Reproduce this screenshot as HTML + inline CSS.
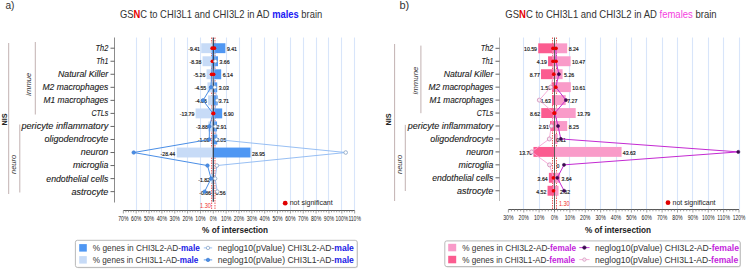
<!DOCTYPE html>
<html><head><meta charset="utf-8"><style>
html,body{margin:0;padding:0;background:#fff;}
svg{display:block;font-family:"Liberation Sans", sans-serif;}
</style></head><body>
<svg width="746" height="269" viewBox="0 0 746 269">
<rect width="746" height="269" fill="#fff"/>
<line x1="136.50" y1="37.5" x2="136.50" y2="210.5" stroke="#d8e5fa" stroke-width="1.1"/>
<line x1="149.50" y1="37.5" x2="149.50" y2="210.5" stroke="#d8e5fa" stroke-width="1.1"/>
<line x1="161.50" y1="37.5" x2="161.50" y2="210.5" stroke="#d8e5fa" stroke-width="1.1"/>
<line x1="174.50" y1="37.5" x2="174.50" y2="210.5" stroke="#d8e5fa" stroke-width="1.1"/>
<line x1="187.50" y1="37.5" x2="187.50" y2="210.5" stroke="#d8e5fa" stroke-width="1.1"/>
<line x1="200.50" y1="37.5" x2="200.50" y2="210.5" stroke="#d8e5fa" stroke-width="1.1"/>
<line x1="226.50" y1="37.5" x2="226.50" y2="210.5" stroke="#d8e5fa" stroke-width="1.1"/>
<line x1="239.50" y1="37.5" x2="239.50" y2="210.5" stroke="#d8e5fa" stroke-width="1.1"/>
<line x1="251.50" y1="37.5" x2="251.50" y2="210.5" stroke="#d8e5fa" stroke-width="1.1"/>
<line x1="264.50" y1="37.5" x2="264.50" y2="210.5" stroke="#d8e5fa" stroke-width="1.1"/>
<line x1="277.50" y1="37.5" x2="277.50" y2="210.5" stroke="#d8e5fa" stroke-width="1.1"/>
<line x1="290.50" y1="37.5" x2="290.50" y2="210.5" stroke="#d8e5fa" stroke-width="1.1"/>
<line x1="303.50" y1="37.5" x2="303.50" y2="210.5" stroke="#d8e5fa" stroke-width="1.1"/>
<line x1="316.50" y1="37.5" x2="316.50" y2="210.5" stroke="#d8e5fa" stroke-width="1.1"/>
<line x1="328.50" y1="37.5" x2="328.50" y2="210.5" stroke="#d8e5fa" stroke-width="1.1"/>
<line x1="341.50" y1="37.5" x2="341.50" y2="210.5" stroke="#d8e5fa" stroke-width="1.1"/>
<line x1="354.50" y1="37.5" x2="354.50" y2="210.5" stroke="#d8e5fa" stroke-width="1.1"/>
<line x1="211.63" y1="37.5" x2="211.63" y2="210.5" stroke="#e83030" stroke-width="0.8" stroke-dasharray="1.5,1"/>
<line x1="214.97" y1="37.5" x2="214.97" y2="210.5" stroke="#e83030" stroke-width="0.8" stroke-dasharray="1.5,1"/>
<rect x="201.21" y="43.25" width="12.09" height="9.9" fill="#c7dbf7"/>
<rect x="213.30" y="43.25" width="12.09" height="9.9" fill="#4f97f3"/>
<rect x="202.53" y="56.29" width="10.77" height="9.9" fill="#c7dbf7"/>
<rect x="213.30" y="56.29" width="4.70" height="9.9" fill="#4f97f3"/>
<rect x="206.54" y="69.33" width="6.76" height="9.9" fill="#c7dbf7"/>
<rect x="213.30" y="69.33" width="7.89" height="9.9" fill="#4f97f3"/>
<rect x="207.45" y="82.37" width="5.85" height="9.9" fill="#c7dbf7"/>
<rect x="213.30" y="82.37" width="3.89" height="9.9" fill="#4f97f3"/>
<rect x="208.08" y="95.41" width="5.22" height="9.9" fill="#c7dbf7"/>
<rect x="213.30" y="95.41" width="4.37" height="9.9" fill="#4f97f3"/>
<rect x="195.58" y="108.45" width="17.72" height="9.9" fill="#c7dbf7"/>
<rect x="213.30" y="108.45" width="8.87" height="9.9" fill="#4f97f3"/>
<rect x="208.31" y="121.49" width="4.99" height="9.9" fill="#c7dbf7"/>
<rect x="213.30" y="121.49" width="3.74" height="9.9" fill="#4f97f3"/>
<rect x="211.90" y="134.53" width="1.40" height="9.9" fill="#c7dbf7"/>
<rect x="213.30" y="134.53" width="3.92" height="9.9" fill="#4f97f3"/>
<rect x="176.75" y="147.57" width="36.55" height="9.9" fill="#c7dbf7"/>
<rect x="213.30" y="147.57" width="37.20" height="9.9" fill="#4f97f3"/>
<rect x="213.04" y="160.61" width="0.26" height="9.9" fill="#c7dbf7"/>
<rect x="213.30" y="160.61" width="0.26" height="9.9" fill="#4f97f3"/>
<rect x="210.96" y="173.65" width="2.34" height="9.9" fill="#c7dbf7"/>
<rect x="213.30" y="173.65" width="0.39" height="9.9" fill="#4f97f3"/>
<rect x="212.19" y="186.69" width="1.11" height="9.9" fill="#c7dbf7"/>
<rect x="213.30" y="186.69" width="0.72" height="9.9" fill="#4f97f3"/>
<line x1="213.30" y1="37.5" x2="213.30" y2="201.8" stroke="#2b3b4e" stroke-width="1.2"/>
<text x="200.01" y="51.20" font-size="5.9" text-anchor="end" fill="#1a1a1a" font-weight="normal" font-style="normal" textLength="11.83" lengthAdjust="spacingAndGlyphs" stroke="#1a1a1a" stroke-width="0.18">-9.41</text>
<text x="226.89" y="51.20" font-size="5.9" text-anchor="start" fill="#1a1a1a" font-weight="normal" font-style="normal" textLength="10.1" lengthAdjust="spacingAndGlyphs" stroke="#1a1a1a" stroke-width="0.18">9.41</text>
<text x="201.33" y="64.24" font-size="5.9" text-anchor="end" fill="#1a1a1a" font-weight="normal" font-style="normal" textLength="11.83" lengthAdjust="spacingAndGlyphs" stroke="#1a1a1a" stroke-width="0.18">-8.38</text>
<text x="219.50" y="64.24" font-size="5.9" text-anchor="start" fill="#1a1a1a" font-weight="normal" font-style="normal" textLength="10.1" lengthAdjust="spacingAndGlyphs" stroke="#1a1a1a" stroke-width="0.18">3.66</text>
<text x="205.34" y="77.28" font-size="5.9" text-anchor="end" fill="#1a1a1a" font-weight="normal" font-style="normal" textLength="11.83" lengthAdjust="spacingAndGlyphs" stroke="#1a1a1a" stroke-width="0.18">-5.26</text>
<text x="222.69" y="77.28" font-size="5.9" text-anchor="start" fill="#1a1a1a" font-weight="normal" font-style="normal" textLength="10.1" lengthAdjust="spacingAndGlyphs" stroke="#1a1a1a" stroke-width="0.18">6.14</text>
<text x="206.25" y="90.32" font-size="5.9" text-anchor="end" fill="#1a1a1a" font-weight="normal" font-style="normal" textLength="11.83" lengthAdjust="spacingAndGlyphs" stroke="#1a1a1a" stroke-width="0.18">-4.55</text>
<text x="218.69" y="90.32" font-size="5.9" text-anchor="start" fill="#1a1a1a" font-weight="normal" font-style="normal" textLength="10.1" lengthAdjust="spacingAndGlyphs" stroke="#1a1a1a" stroke-width="0.18">3.03</text>
<text x="206.88" y="103.36" font-size="5.9" text-anchor="end" fill="#1a1a1a" font-weight="normal" font-style="normal" textLength="11.83" lengthAdjust="spacingAndGlyphs" stroke="#1a1a1a" stroke-width="0.18">-4.06</text>
<text x="218.87" y="103.36" font-size="5.9" text-anchor="start" fill="#1a1a1a" font-weight="normal" font-style="normal" textLength="10.1" lengthAdjust="spacingAndGlyphs" stroke="#1a1a1a" stroke-width="0.18">3.71</text>
<text x="194.38" y="116.40" font-size="5.9" text-anchor="end" fill="#1a1a1a" font-weight="normal" font-style="normal" textLength="14.72" lengthAdjust="spacingAndGlyphs" stroke="#1a1a1a" stroke-width="0.18">-13.79</text>
<text x="223.67" y="116.40" font-size="5.9" text-anchor="start" fill="#1a1a1a" font-weight="normal" font-style="normal" textLength="10.1" lengthAdjust="spacingAndGlyphs" stroke="#1a1a1a" stroke-width="0.18">6.90</text>
<text x="207.81" y="129.44" font-size="5.9" text-anchor="end" fill="#1a1a1a" font-weight="normal" font-style="normal" textLength="11.83" lengthAdjust="spacingAndGlyphs" stroke="#1a1a1a" stroke-width="0.18">-3.88</text>
<text x="216.54" y="129.44" font-size="5.9" text-anchor="start" fill="#1a1a1a" font-weight="normal" font-style="normal" textLength="10.1" lengthAdjust="spacingAndGlyphs" stroke="#1a1a1a" stroke-width="0.18">2.91</text>
<text x="209.50" y="142.48" font-size="5.9" text-anchor="end" fill="#1a1a1a" font-weight="normal" font-style="normal" textLength="11.83" lengthAdjust="spacingAndGlyphs" stroke="#1a1a1a" stroke-width="0.18">-1.09</text>
<text x="216.00" y="142.48" font-size="5.9" text-anchor="start" fill="#1a1a1a" font-weight="normal" font-style="normal" textLength="10.1" lengthAdjust="spacingAndGlyphs" stroke="#1a1a1a" stroke-width="0.18">3.05</text>
<text x="175.25" y="155.52" font-size="5.9" text-anchor="end" fill="#1a1a1a" font-weight="normal" font-style="normal" textLength="14.72" lengthAdjust="spacingAndGlyphs" stroke="#1a1a1a" stroke-width="0.18">-28.44</text>
<text x="252.00" y="155.52" font-size="5.9" text-anchor="start" fill="#1a1a1a" font-weight="normal" font-style="normal" textLength="12.99" lengthAdjust="spacingAndGlyphs" stroke="#1a1a1a" stroke-width="0.18">28.95</text>
<text x="210.00" y="181.60" font-size="5.9" text-anchor="end" fill="#1a1a1a" font-weight="normal" font-style="normal" textLength="11.83" lengthAdjust="spacingAndGlyphs" stroke="#1a1a1a" stroke-width="0.18">-1.82</text>
<text x="210.99" y="194.64" font-size="5.9" text-anchor="end" fill="#1a1a1a" font-weight="normal" font-style="normal" textLength="11.83" lengthAdjust="spacingAndGlyphs" stroke="#1a1a1a" stroke-width="0.18">-0.86</text>
<text x="215.52" y="194.64" font-size="5.9" text-anchor="start" fill="#1a1a1a" font-weight="normal" font-style="normal" textLength="10.1" lengthAdjust="spacingAndGlyphs" stroke="#1a1a1a" stroke-width="0.18">0.56</text>
<polyline points="212.20,48.20 212.40,61.24 211.60,74.28 211.00,87.32 203.00,100.36 213.00,113.40 209.40,126.44 209.30,139.48 133.70,152.52 207.50,165.56 211.10,178.60 204.60,191.64" fill="none" stroke="#4a8ee6" stroke-width="1.0"/>
<polyline points="214.40,48.20 215.40,61.24 213.60,74.28 214.80,87.32 217.20,100.36 213.60,113.40 215.40,126.44 216.40,139.48 345.70,152.52 216.90,165.56 215.10,178.60 217.30,191.64" fill="none" stroke="#8cb8f2" stroke-width="0.9"/>
<circle cx="212.20" cy="48.20" r="1.85" fill="#e80000"/>
<circle cx="214.40" cy="48.20" r="1.85" fill="#e80000"/>
<circle cx="212.40" cy="61.24" r="1.85" fill="#e80000"/>
<circle cx="215.40" cy="61.24" r="1.8" fill="#ffffff" stroke="#7f9cc0" stroke-width="0.75"/>
<circle cx="211.60" cy="74.28" r="1.85" fill="#e80000"/>
<circle cx="213.60" cy="74.28" r="1.85" fill="#e80000"/>
<circle cx="211.00" cy="87.32" r="1.75" fill="#4a8ee6" stroke="#3a78d0" stroke-width="0.6"/>
<circle cx="214.80" cy="87.32" r="1.8" fill="#ffffff" stroke="#7f9cc0" stroke-width="0.75"/>
<circle cx="203.00" cy="100.36" r="1.75" fill="#4a8ee6" stroke="#3a78d0" stroke-width="0.6"/>
<circle cx="217.20" cy="100.36" r="1.8" fill="#ffffff" stroke="#7f9cc0" stroke-width="0.75"/>
<circle cx="213.00" cy="113.40" r="1.85" fill="#e80000"/>
<circle cx="213.60" cy="113.40" r="1.85" fill="#e80000"/>
<circle cx="209.40" cy="126.44" r="1.75" fill="#4a8ee6" stroke="#3a78d0" stroke-width="0.6"/>
<circle cx="215.40" cy="126.44" r="1.8" fill="#ffffff" stroke="#7f9cc0" stroke-width="0.75"/>
<circle cx="209.30" cy="139.48" r="1.75" fill="#4a8ee6" stroke="#3a78d0" stroke-width="0.6"/>
<circle cx="216.40" cy="139.48" r="1.8" fill="#ffffff" stroke="#7f9cc0" stroke-width="0.75"/>
<circle cx="133.70" cy="152.52" r="1.75" fill="#4a8ee6" stroke="#3a78d0" stroke-width="0.6"/>
<circle cx="345.70" cy="152.52" r="1.8" fill="#ffffff" stroke="#7f9cc0" stroke-width="0.75"/>
<circle cx="207.50" cy="165.56" r="1.75" fill="#4a8ee6" stroke="#3a78d0" stroke-width="0.6"/>
<circle cx="216.90" cy="165.56" r="1.8" fill="#ffffff" stroke="#7f9cc0" stroke-width="0.75"/>
<circle cx="211.10" cy="178.60" r="1.75" fill="#4a8ee6" stroke="#3a78d0" stroke-width="0.6"/>
<circle cx="215.10" cy="178.60" r="1.8" fill="#ffffff" stroke="#7f9cc0" stroke-width="0.75"/>
<circle cx="204.60" cy="191.64" r="1.75" fill="#4a8ee6" stroke="#3a78d0" stroke-width="0.6"/>
<circle cx="217.30" cy="191.64" r="1.8" fill="#ffffff" stroke="#7f9cc0" stroke-width="0.75"/>
<line x1="114.5" y1="37.5" x2="114.5" y2="202.5" stroke="#8c8c8c" stroke-width="1"/>
<line x1="110.5" y1="48.20" x2="114.5" y2="48.20" stroke="#555" stroke-width="0.9"/>
<text x="108.30" y="51.10" font-size="8.8" text-anchor="end" fill="#1c1c1c" font-weight="normal" font-style="italic" textLength="12.7" lengthAdjust="spacingAndGlyphs" stroke="#1c1c1c" stroke-width="0.12">Th2</text>
<line x1="110.5" y1="61.24" x2="114.5" y2="61.24" stroke="#555" stroke-width="0.9"/>
<text x="108.30" y="64.14" font-size="8.8" text-anchor="end" fill="#1c1c1c" font-weight="normal" font-style="italic" textLength="12.0" lengthAdjust="spacingAndGlyphs" stroke="#1c1c1c" stroke-width="0.12">Th1</text>
<line x1="110.5" y1="74.28" x2="114.5" y2="74.28" stroke="#555" stroke-width="0.9"/>
<text x="108.30" y="77.18" font-size="8.8" text-anchor="end" fill="#1c1c1c" font-weight="normal" font-style="italic" textLength="50.4" lengthAdjust="spacingAndGlyphs" stroke="#1c1c1c" stroke-width="0.12">Natural Killer</text>
<line x1="110.5" y1="87.32" x2="114.5" y2="87.32" stroke="#555" stroke-width="0.9"/>
<text x="108.30" y="90.22" font-size="8.8" text-anchor="end" fill="#1c1c1c" font-weight="normal" font-style="italic" textLength="65.8" lengthAdjust="spacingAndGlyphs" stroke="#1c1c1c" stroke-width="0.12">M2 macrophages</text>
<line x1="110.5" y1="100.36" x2="114.5" y2="100.36" stroke="#555" stroke-width="0.9"/>
<text x="108.30" y="103.26" font-size="8.8" text-anchor="end" fill="#1c1c1c" font-weight="normal" font-style="italic" textLength="64.7" lengthAdjust="spacingAndGlyphs" stroke="#1c1c1c" stroke-width="0.12">M1 macrophages</text>
<line x1="110.5" y1="113.40" x2="114.5" y2="113.40" stroke="#555" stroke-width="0.9"/>
<text x="108.30" y="116.30" font-size="8.8" text-anchor="end" fill="#1c1c1c" font-weight="normal" font-style="italic" textLength="16.9" lengthAdjust="spacingAndGlyphs" stroke="#1c1c1c" stroke-width="0.12">CTLs</text>
<line x1="110.5" y1="126.44" x2="114.5" y2="126.44" stroke="#555" stroke-width="0.9"/>
<text x="108.30" y="129.34" font-size="8.8" text-anchor="end" fill="#1c1c1c" font-weight="normal" font-style="italic" textLength="86.9" lengthAdjust="spacingAndGlyphs" stroke="#1c1c1c" stroke-width="0.12">pericyte inflammatory</text>
<line x1="110.5" y1="139.48" x2="114.5" y2="139.48" stroke="#555" stroke-width="0.9"/>
<text x="108.30" y="142.38" font-size="8.8" text-anchor="end" fill="#1c1c1c" font-weight="normal" font-style="italic" textLength="63.9" lengthAdjust="spacingAndGlyphs" stroke="#1c1c1c" stroke-width="0.12">oligodendrocyte</text>
<line x1="110.5" y1="152.52" x2="114.5" y2="152.52" stroke="#555" stroke-width="0.9"/>
<text x="108.30" y="155.42" font-size="8.8" text-anchor="end" fill="#1c1c1c" font-weight="normal" font-style="italic" textLength="27.5" lengthAdjust="spacingAndGlyphs" stroke="#1c1c1c" stroke-width="0.12">neuron</text>
<line x1="110.5" y1="165.56" x2="114.5" y2="165.56" stroke="#555" stroke-width="0.9"/>
<text x="108.30" y="168.46" font-size="8.8" text-anchor="end" fill="#1c1c1c" font-weight="normal" font-style="italic" textLength="35.3" lengthAdjust="spacingAndGlyphs" stroke="#1c1c1c" stroke-width="0.12">microglia</text>
<line x1="110.5" y1="178.60" x2="114.5" y2="178.60" stroke="#555" stroke-width="0.9"/>
<text x="108.30" y="181.50" font-size="8.8" text-anchor="end" fill="#1c1c1c" font-weight="normal" font-style="italic" textLength="62.0" lengthAdjust="spacingAndGlyphs" stroke="#1c1c1c" stroke-width="0.12">endothelial cells</text>
<line x1="110.5" y1="191.64" x2="114.5" y2="191.64" stroke="#555" stroke-width="0.9"/>
<text x="108.30" y="194.54" font-size="8.8" text-anchor="end" fill="#1c1c1c" font-weight="normal" font-style="italic" textLength="36.8" lengthAdjust="spacingAndGlyphs" stroke="#1c1c1c" stroke-width="0.12">astrocyte</text>
<line x1="8.7" y1="43" x2="8.7" y2="194" stroke="#bba9a9" stroke-width="0.9"/>
<line x1="35.3" y1="42" x2="35.3" y2="114.5" stroke="#bba9a9" stroke-width="0.9"/>
<line x1="19.8" y1="124.5" x2="19.8" y2="192.5" stroke="#bba9a9" stroke-width="0.9"/>
<text transform="translate(7.0,119.5) rotate(-90)" font-size="7.2" font-weight="bold" fill="#222" text-anchor="middle">NIS</text>
<text transform="translate(31.3,84.2) rotate(-90)" font-size="7.8" font-style="italic" fill="#333" text-anchor="middle" textLength="23" lengthAdjust="spacingAndGlyphs">immue</text>
<text transform="translate(16.2,164.4) rotate(-90)" font-size="7.6" font-style="italic" fill="#333" text-anchor="middle" textLength="19.4" lengthAdjust="spacingAndGlyphs">neuro</text>
<line x1="123.35" y1="210.5" x2="354.65" y2="210.5" stroke="#585858" stroke-width="1"/>
<line x1="123.35" y1="210.5" x2="123.35" y2="213.5" stroke="#777" stroke-width="0.7"/>
<text x="123.35" y="221.10" font-size="6.5" text-anchor="middle" fill="#222" font-weight="normal" font-style="normal" textLength="10.3" lengthAdjust="spacingAndGlyphs">70%</text>
<line x1="125.92" y1="210.5" x2="125.92" y2="212.3" stroke="#777" stroke-width="0.7"/>
<line x1="128.49" y1="210.5" x2="128.49" y2="212.3" stroke="#777" stroke-width="0.7"/>
<line x1="131.06" y1="210.5" x2="131.06" y2="212.3" stroke="#777" stroke-width="0.7"/>
<line x1="133.63" y1="210.5" x2="133.63" y2="212.3" stroke="#777" stroke-width="0.7"/>
<line x1="136.20" y1="210.5" x2="136.20" y2="213.5" stroke="#777" stroke-width="0.7"/>
<text x="136.20" y="221.10" font-size="6.5" text-anchor="middle" fill="#222" font-weight="normal" font-style="normal" textLength="10.3" lengthAdjust="spacingAndGlyphs">60%</text>
<line x1="138.77" y1="210.5" x2="138.77" y2="212.3" stroke="#777" stroke-width="0.7"/>
<line x1="141.34" y1="210.5" x2="141.34" y2="212.3" stroke="#777" stroke-width="0.7"/>
<line x1="143.91" y1="210.5" x2="143.91" y2="212.3" stroke="#777" stroke-width="0.7"/>
<line x1="146.48" y1="210.5" x2="146.48" y2="212.3" stroke="#777" stroke-width="0.7"/>
<line x1="149.05" y1="210.5" x2="149.05" y2="213.5" stroke="#777" stroke-width="0.7"/>
<text x="149.05" y="221.10" font-size="6.5" text-anchor="middle" fill="#222" font-weight="normal" font-style="normal" textLength="10.3" lengthAdjust="spacingAndGlyphs">50%</text>
<line x1="151.62" y1="210.5" x2="151.62" y2="212.3" stroke="#777" stroke-width="0.7"/>
<line x1="154.19" y1="210.5" x2="154.19" y2="212.3" stroke="#777" stroke-width="0.7"/>
<line x1="156.76" y1="210.5" x2="156.76" y2="212.3" stroke="#777" stroke-width="0.7"/>
<line x1="159.33" y1="210.5" x2="159.33" y2="212.3" stroke="#777" stroke-width="0.7"/>
<line x1="161.90" y1="210.5" x2="161.90" y2="213.5" stroke="#777" stroke-width="0.7"/>
<text x="161.90" y="221.10" font-size="6.5" text-anchor="middle" fill="#222" font-weight="normal" font-style="normal" textLength="10.3" lengthAdjust="spacingAndGlyphs">40%</text>
<line x1="164.47" y1="210.5" x2="164.47" y2="212.3" stroke="#777" stroke-width="0.7"/>
<line x1="167.04" y1="210.5" x2="167.04" y2="212.3" stroke="#777" stroke-width="0.7"/>
<line x1="169.61" y1="210.5" x2="169.61" y2="212.3" stroke="#777" stroke-width="0.7"/>
<line x1="172.18" y1="210.5" x2="172.18" y2="212.3" stroke="#777" stroke-width="0.7"/>
<line x1="174.75" y1="210.5" x2="174.75" y2="213.5" stroke="#777" stroke-width="0.7"/>
<text x="174.75" y="221.10" font-size="6.5" text-anchor="middle" fill="#222" font-weight="normal" font-style="normal" textLength="10.3" lengthAdjust="spacingAndGlyphs">30%</text>
<line x1="177.32" y1="210.5" x2="177.32" y2="212.3" stroke="#777" stroke-width="0.7"/>
<line x1="179.89" y1="210.5" x2="179.89" y2="212.3" stroke="#777" stroke-width="0.7"/>
<line x1="182.46" y1="210.5" x2="182.46" y2="212.3" stroke="#777" stroke-width="0.7"/>
<line x1="185.03" y1="210.5" x2="185.03" y2="212.3" stroke="#777" stroke-width="0.7"/>
<line x1="187.60" y1="210.5" x2="187.60" y2="213.5" stroke="#777" stroke-width="0.7"/>
<text x="187.60" y="221.10" font-size="6.5" text-anchor="middle" fill="#222" font-weight="normal" font-style="normal" textLength="10.3" lengthAdjust="spacingAndGlyphs">20%</text>
<line x1="190.17" y1="210.5" x2="190.17" y2="212.3" stroke="#777" stroke-width="0.7"/>
<line x1="192.74" y1="210.5" x2="192.74" y2="212.3" stroke="#777" stroke-width="0.7"/>
<line x1="195.31" y1="210.5" x2="195.31" y2="212.3" stroke="#777" stroke-width="0.7"/>
<line x1="197.88" y1="210.5" x2="197.88" y2="212.3" stroke="#777" stroke-width="0.7"/>
<line x1="200.45" y1="210.5" x2="200.45" y2="213.5" stroke="#777" stroke-width="0.7"/>
<text x="200.45" y="221.10" font-size="6.5" text-anchor="middle" fill="#222" font-weight="normal" font-style="normal" textLength="10.3" lengthAdjust="spacingAndGlyphs">10%</text>
<line x1="203.02" y1="210.5" x2="203.02" y2="212.3" stroke="#777" stroke-width="0.7"/>
<line x1="205.59" y1="210.5" x2="205.59" y2="212.3" stroke="#777" stroke-width="0.7"/>
<line x1="208.16" y1="210.5" x2="208.16" y2="212.3" stroke="#777" stroke-width="0.7"/>
<line x1="210.73" y1="210.5" x2="210.73" y2="212.3" stroke="#777" stroke-width="0.7"/>
<line x1="213.30" y1="210.5" x2="213.30" y2="213.5" stroke="#777" stroke-width="0.7"/>
<text x="213.30" y="221.10" font-size="6.5" text-anchor="middle" fill="#222" font-weight="normal" font-style="normal" textLength="7.0" lengthAdjust="spacingAndGlyphs">0%</text>
<line x1="215.87" y1="210.5" x2="215.87" y2="212.3" stroke="#777" stroke-width="0.7"/>
<line x1="218.44" y1="210.5" x2="218.44" y2="212.3" stroke="#777" stroke-width="0.7"/>
<line x1="221.01" y1="210.5" x2="221.01" y2="212.3" stroke="#777" stroke-width="0.7"/>
<line x1="223.58" y1="210.5" x2="223.58" y2="212.3" stroke="#777" stroke-width="0.7"/>
<line x1="226.15" y1="210.5" x2="226.15" y2="213.5" stroke="#777" stroke-width="0.7"/>
<text x="226.15" y="221.10" font-size="6.5" text-anchor="middle" fill="#222" font-weight="normal" font-style="normal" textLength="10.3" lengthAdjust="spacingAndGlyphs">10%</text>
<line x1="228.72" y1="210.5" x2="228.72" y2="212.3" stroke="#777" stroke-width="0.7"/>
<line x1="231.29" y1="210.5" x2="231.29" y2="212.3" stroke="#777" stroke-width="0.7"/>
<line x1="233.86" y1="210.5" x2="233.86" y2="212.3" stroke="#777" stroke-width="0.7"/>
<line x1="236.43" y1="210.5" x2="236.43" y2="212.3" stroke="#777" stroke-width="0.7"/>
<line x1="239.00" y1="210.5" x2="239.00" y2="213.5" stroke="#777" stroke-width="0.7"/>
<text x="239.00" y="221.10" font-size="6.5" text-anchor="middle" fill="#222" font-weight="normal" font-style="normal" textLength="10.3" lengthAdjust="spacingAndGlyphs">20%</text>
<line x1="241.57" y1="210.5" x2="241.57" y2="212.3" stroke="#777" stroke-width="0.7"/>
<line x1="244.14" y1="210.5" x2="244.14" y2="212.3" stroke="#777" stroke-width="0.7"/>
<line x1="246.71" y1="210.5" x2="246.71" y2="212.3" stroke="#777" stroke-width="0.7"/>
<line x1="249.28" y1="210.5" x2="249.28" y2="212.3" stroke="#777" stroke-width="0.7"/>
<line x1="251.85" y1="210.5" x2="251.85" y2="213.5" stroke="#777" stroke-width="0.7"/>
<text x="251.85" y="221.10" font-size="6.5" text-anchor="middle" fill="#222" font-weight="normal" font-style="normal" textLength="10.3" lengthAdjust="spacingAndGlyphs">30%</text>
<line x1="254.42" y1="210.5" x2="254.42" y2="212.3" stroke="#777" stroke-width="0.7"/>
<line x1="256.99" y1="210.5" x2="256.99" y2="212.3" stroke="#777" stroke-width="0.7"/>
<line x1="259.56" y1="210.5" x2="259.56" y2="212.3" stroke="#777" stroke-width="0.7"/>
<line x1="262.13" y1="210.5" x2="262.13" y2="212.3" stroke="#777" stroke-width="0.7"/>
<line x1="264.70" y1="210.5" x2="264.70" y2="213.5" stroke="#777" stroke-width="0.7"/>
<text x="264.70" y="221.10" font-size="6.5" text-anchor="middle" fill="#222" font-weight="normal" font-style="normal" textLength="10.3" lengthAdjust="spacingAndGlyphs">40%</text>
<line x1="267.27" y1="210.5" x2="267.27" y2="212.3" stroke="#777" stroke-width="0.7"/>
<line x1="269.84" y1="210.5" x2="269.84" y2="212.3" stroke="#777" stroke-width="0.7"/>
<line x1="272.41" y1="210.5" x2="272.41" y2="212.3" stroke="#777" stroke-width="0.7"/>
<line x1="274.98" y1="210.5" x2="274.98" y2="212.3" stroke="#777" stroke-width="0.7"/>
<line x1="277.55" y1="210.5" x2="277.55" y2="213.5" stroke="#777" stroke-width="0.7"/>
<text x="277.55" y="221.10" font-size="6.5" text-anchor="middle" fill="#222" font-weight="normal" font-style="normal" textLength="10.3" lengthAdjust="spacingAndGlyphs">50%</text>
<line x1="280.12" y1="210.5" x2="280.12" y2="212.3" stroke="#777" stroke-width="0.7"/>
<line x1="282.69" y1="210.5" x2="282.69" y2="212.3" stroke="#777" stroke-width="0.7"/>
<line x1="285.26" y1="210.5" x2="285.26" y2="212.3" stroke="#777" stroke-width="0.7"/>
<line x1="287.83" y1="210.5" x2="287.83" y2="212.3" stroke="#777" stroke-width="0.7"/>
<line x1="290.40" y1="210.5" x2="290.40" y2="213.5" stroke="#777" stroke-width="0.7"/>
<text x="290.40" y="221.10" font-size="6.5" text-anchor="middle" fill="#222" font-weight="normal" font-style="normal" textLength="10.3" lengthAdjust="spacingAndGlyphs">60%</text>
<line x1="292.97" y1="210.5" x2="292.97" y2="212.3" stroke="#777" stroke-width="0.7"/>
<line x1="295.54" y1="210.5" x2="295.54" y2="212.3" stroke="#777" stroke-width="0.7"/>
<line x1="298.11" y1="210.5" x2="298.11" y2="212.3" stroke="#777" stroke-width="0.7"/>
<line x1="300.68" y1="210.5" x2="300.68" y2="212.3" stroke="#777" stroke-width="0.7"/>
<line x1="303.25" y1="210.5" x2="303.25" y2="213.5" stroke="#777" stroke-width="0.7"/>
<text x="303.25" y="221.10" font-size="6.5" text-anchor="middle" fill="#222" font-weight="normal" font-style="normal" textLength="10.3" lengthAdjust="spacingAndGlyphs">70%</text>
<line x1="305.82" y1="210.5" x2="305.82" y2="212.3" stroke="#777" stroke-width="0.7"/>
<line x1="308.39" y1="210.5" x2="308.39" y2="212.3" stroke="#777" stroke-width="0.7"/>
<line x1="310.96" y1="210.5" x2="310.96" y2="212.3" stroke="#777" stroke-width="0.7"/>
<line x1="313.53" y1="210.5" x2="313.53" y2="212.3" stroke="#777" stroke-width="0.7"/>
<line x1="316.10" y1="210.5" x2="316.10" y2="213.5" stroke="#777" stroke-width="0.7"/>
<text x="316.10" y="221.10" font-size="6.5" text-anchor="middle" fill="#222" font-weight="normal" font-style="normal" textLength="10.3" lengthAdjust="spacingAndGlyphs">80%</text>
<line x1="318.67" y1="210.5" x2="318.67" y2="212.3" stroke="#777" stroke-width="0.7"/>
<line x1="321.24" y1="210.5" x2="321.24" y2="212.3" stroke="#777" stroke-width="0.7"/>
<line x1="323.81" y1="210.5" x2="323.81" y2="212.3" stroke="#777" stroke-width="0.7"/>
<line x1="326.38" y1="210.5" x2="326.38" y2="212.3" stroke="#777" stroke-width="0.7"/>
<line x1="328.95" y1="210.5" x2="328.95" y2="213.5" stroke="#777" stroke-width="0.7"/>
<text x="328.95" y="221.10" font-size="6.5" text-anchor="middle" fill="#222" font-weight="normal" font-style="normal" textLength="10.3" lengthAdjust="spacingAndGlyphs">90%</text>
<line x1="331.52" y1="210.5" x2="331.52" y2="212.3" stroke="#777" stroke-width="0.7"/>
<line x1="334.09" y1="210.5" x2="334.09" y2="212.3" stroke="#777" stroke-width="0.7"/>
<line x1="336.66" y1="210.5" x2="336.66" y2="212.3" stroke="#777" stroke-width="0.7"/>
<line x1="339.23" y1="210.5" x2="339.23" y2="212.3" stroke="#777" stroke-width="0.7"/>
<line x1="341.80" y1="210.5" x2="341.80" y2="213.5" stroke="#777" stroke-width="0.7"/>
<text x="341.80" y="221.10" font-size="6.5" text-anchor="middle" fill="#222" font-weight="normal" font-style="normal" textLength="12.5" lengthAdjust="spacingAndGlyphs">100%</text>
<line x1="344.37" y1="210.5" x2="344.37" y2="212.3" stroke="#777" stroke-width="0.7"/>
<line x1="346.94" y1="210.5" x2="346.94" y2="212.3" stroke="#777" stroke-width="0.7"/>
<line x1="349.51" y1="210.5" x2="349.51" y2="212.3" stroke="#777" stroke-width="0.7"/>
<line x1="352.08" y1="210.5" x2="352.08" y2="212.3" stroke="#777" stroke-width="0.7"/>
<line x1="354.65" y1="210.5" x2="354.65" y2="213.5" stroke="#777" stroke-width="0.7"/>
<text x="354.65" y="221.10" font-size="6.5" text-anchor="middle" fill="#222" font-weight="normal" font-style="normal" textLength="12.5" lengthAdjust="spacingAndGlyphs">110%</text>
<text x="210.90" y="207.60" font-size="7.0" text-anchor="end" fill="#f03030" font-weight="normal" font-style="normal" textLength="10.8" lengthAdjust="spacingAndGlyphs">1.30</text>
<text x="235.10" y="232.60" font-size="8.4" text-anchor="middle" fill="#222" font-weight="bold" font-style="normal" textLength="66" lengthAdjust="spacingAndGlyphs">% of intersection</text>
<circle cx="285.2" cy="203.2" r="2.4" fill="#e00000"/>
<text x="289.70" y="205.40" font-size="6.8" text-anchor="start" fill="#222" font-weight="normal" font-style="normal" textLength="43" lengthAdjust="spacingAndGlyphs">not significant</text>
<text x="120" y="17.6" font-size="10.4" fill="#333" textLength="202.2" lengthAdjust="spacingAndGlyphs">GS<tspan fill="#e60000" font-weight="bold">N</tspan>C to CHI3L1 and CHI3L2 in AD <tspan fill="#2020f4" font-weight="bold">males</tspan> brain</text>
<text x="5.50" y="8.90" font-size="10.8" text-anchor="start" fill="#333" font-weight="normal" font-style="normal" textLength="9.0" lengthAdjust="spacingAndGlyphs">a)</text>
<rect x="76.2" y="241.10000000000002" width="281.79999999999995" height="27.099999999999966" rx="2" fill="#e4e4e4"/>
<rect x="75.4" y="240.3" width="281.79999999999995" height="27.099999999999966" rx="2" fill="#fff" stroke="#a8a8a8" stroke-width="0.8"/>
<rect x="79.2" y="244.10" width="7.599999999999994" height="7.5" fill="#4f97f3"/>
<text x="92.8" y="250.90" font-size="8.6" fill="#333" textLength="107" lengthAdjust="spacingAndGlyphs">% genes in CHI3L2-AD-<tspan fill="#1a1ae6" font-weight="bold">male</tspan></text>
<rect x="79.2" y="256.10" width="7.599999999999994" height="7.5" fill="#c7dbf7"/>
<text x="92.8" y="262.90" font-size="8.6" fill="#333" textLength="105.6" lengthAdjust="spacingAndGlyphs">% genes in CHI3L1-AD-<tspan fill="#1a1ae6" font-weight="bold">male</tspan></text>
<line x1="203.8" y1="247.90" x2="212.2" y2="247.90" stroke="#8cb8f2" stroke-width="0.9"/>
<circle cx="208.00" cy="247.90" r="1.7" fill="#ffffff" stroke="#7f9cc0" stroke-width="0.7"/>
<text x="217.7" y="250.90" font-size="8.6" fill="#333" textLength="136.2" lengthAdjust="spacingAndGlyphs">neglog10(pValue) CHI3L2-AD-<tspan fill="#1a1ae6" font-weight="bold">male</tspan></text>
<line x1="203.8" y1="259.90" x2="212.2" y2="259.90" stroke="#4a8ee6" stroke-width="0.9"/>
<circle cx="208.00" cy="259.90" r="1.7" fill="#4a8ee6" stroke="#3a78d0" stroke-width="0.7"/>
<text x="217.7" y="262.90" font-size="8.6" fill="#333" textLength="136.2" lengthAdjust="spacingAndGlyphs">neglog10(pValue) CHI3L1-AD-<tspan fill="#1a1ae6" font-weight="bold">male</tspan></text>
<line x1="523.50" y1="37.5" x2="523.50" y2="209.5" stroke="#d8e5fa" stroke-width="1.1"/>
<line x1="539.50" y1="37.5" x2="539.50" y2="209.5" stroke="#d8e5fa" stroke-width="1.1"/>
<line x1="569.50" y1="37.5" x2="569.50" y2="209.5" stroke="#d8e5fa" stroke-width="1.1"/>
<line x1="585.50" y1="37.5" x2="585.50" y2="209.5" stroke="#d8e5fa" stroke-width="1.1"/>
<line x1="600.50" y1="37.5" x2="600.50" y2="209.5" stroke="#d8e5fa" stroke-width="1.1"/>
<line x1="616.50" y1="37.5" x2="616.50" y2="209.5" stroke="#d8e5fa" stroke-width="1.1"/>
<line x1="631.50" y1="37.5" x2="631.50" y2="209.5" stroke="#d8e5fa" stroke-width="1.1"/>
<line x1="646.50" y1="37.5" x2="646.50" y2="209.5" stroke="#d8e5fa" stroke-width="1.1"/>
<line x1="662.50" y1="37.5" x2="662.50" y2="209.5" stroke="#d8e5fa" stroke-width="1.1"/>
<line x1="677.50" y1="37.5" x2="677.50" y2="209.5" stroke="#d8e5fa" stroke-width="1.1"/>
<line x1="692.50" y1="37.5" x2="692.50" y2="209.5" stroke="#d8e5fa" stroke-width="1.1"/>
<line x1="708.50" y1="37.5" x2="708.50" y2="209.5" stroke="#d8e5fa" stroke-width="1.1"/>
<line x1="723.50" y1="37.5" x2="723.50" y2="209.5" stroke="#d8e5fa" stroke-width="1.1"/>
<line x1="739.50" y1="37.5" x2="739.50" y2="209.5" stroke="#d8e5fa" stroke-width="1.1"/>
<line x1="552.50" y1="37.5" x2="552.50" y2="209.5" stroke="#e83030" stroke-width="0.8" stroke-dasharray="1.5,1"/>
<line x1="556.50" y1="37.5" x2="556.50" y2="209.5" stroke="#e83030" stroke-width="0.8" stroke-dasharray="1.5,1"/>
<rect x="538.22" y="43.35" width="16.28" height="9.9" fill="#fb5c90"/>
<rect x="554.50" y="43.35" width="12.67" height="9.9" fill="#f99bc9"/>
<rect x="548.06" y="56.30" width="6.44" height="9.9" fill="#fb5c90"/>
<rect x="554.50" y="56.30" width="16.10" height="9.9" fill="#f99bc9"/>
<rect x="541.02" y="69.25" width="13.48" height="9.9" fill="#fb5c90"/>
<rect x="554.50" y="69.25" width="8.09" height="9.9" fill="#f99bc9"/>
<rect x="552.16" y="82.20" width="2.34" height="9.9" fill="#fb5c90"/>
<rect x="554.50" y="82.20" width="16.31" height="9.9" fill="#f99bc9"/>
<rect x="551.99" y="95.15" width="2.51" height="9.9" fill="#fb5c90"/>
<rect x="554.50" y="95.15" width="11.18" height="9.9" fill="#f99bc9"/>
<rect x="541.25" y="108.10" width="13.25" height="9.9" fill="#fb5c90"/>
<rect x="554.50" y="108.10" width="21.20" height="9.9" fill="#f99bc9"/>
<rect x="550.03" y="121.05" width="4.47" height="9.9" fill="#fb5c90"/>
<rect x="554.50" y="121.05" width="12.68" height="9.9" fill="#f99bc9"/>
<rect x="554.04" y="134.00" width="0.46" height="9.9" fill="#fb5c90"/>
<rect x="554.50" y="134.00" width="3.08" height="9.9" fill="#f99bc9"/>
<rect x="533.44" y="146.95" width="21.06" height="9.9" fill="#fb5c90"/>
<rect x="554.50" y="146.95" width="67.08" height="9.9" fill="#f99bc9"/>
<rect x="554.04" y="159.90" width="0.46" height="9.9" fill="#fb5c90"/>
<rect x="554.50" y="159.90" width="0.46" height="9.9" fill="#f99bc9"/>
<rect x="548.90" y="172.85" width="5.60" height="9.9" fill="#fb5c90"/>
<rect x="554.50" y="172.85" width="5.60" height="9.9" fill="#f99bc9"/>
<rect x="547.55" y="185.80" width="6.95" height="9.9" fill="#fb5c90"/>
<rect x="554.50" y="185.80" width="4.03" height="9.9" fill="#f99bc9"/>
<line x1="554.50" y1="37.5" x2="554.50" y2="211" stroke="#4a504a" stroke-width="0.9"/>
<text x="537.02" y="51.30" font-size="5.9" text-anchor="end" fill="#1a1a1a" font-weight="normal" font-style="normal" textLength="12.99" lengthAdjust="spacingAndGlyphs" stroke="#1a1a1a" stroke-width="0.18">10.59</text>
<text x="568.67" y="51.30" font-size="5.9" text-anchor="start" fill="#1a1a1a" font-weight="normal" font-style="normal" textLength="10.1" lengthAdjust="spacingAndGlyphs" stroke="#1a1a1a" stroke-width="0.18">8.24</text>
<text x="546.86" y="64.25" font-size="5.9" text-anchor="end" fill="#1a1a1a" font-weight="normal" font-style="normal" textLength="10.1" lengthAdjust="spacingAndGlyphs" stroke="#1a1a1a" stroke-width="0.18">4.19</text>
<text x="572.10" y="64.25" font-size="5.9" text-anchor="start" fill="#1a1a1a" font-weight="normal" font-style="normal" textLength="12.99" lengthAdjust="spacingAndGlyphs" stroke="#1a1a1a" stroke-width="0.18">10.47</text>
<text x="539.82" y="77.20" font-size="5.9" text-anchor="end" fill="#1a1a1a" font-weight="normal" font-style="normal" textLength="10.1" lengthAdjust="spacingAndGlyphs" stroke="#1a1a1a" stroke-width="0.18">8.77</text>
<text x="564.09" y="77.20" font-size="5.9" text-anchor="start" fill="#1a1a1a" font-weight="normal" font-style="normal" textLength="10.1" lengthAdjust="spacingAndGlyphs" stroke="#1a1a1a" stroke-width="0.18">5.26</text>
<text x="550.96" y="90.15" font-size="5.9" text-anchor="end" fill="#1a1a1a" font-weight="normal" font-style="normal" textLength="10.1" lengthAdjust="spacingAndGlyphs" stroke="#1a1a1a" stroke-width="0.18">1.52</text>
<text x="572.31" y="90.15" font-size="5.9" text-anchor="start" fill="#1a1a1a" font-weight="normal" font-style="normal" textLength="12.99" lengthAdjust="spacingAndGlyphs" stroke="#1a1a1a" stroke-width="0.18">10.61</text>
<text x="550.79" y="103.10" font-size="5.9" text-anchor="end" fill="#1a1a1a" font-weight="normal" font-style="normal" textLength="10.1" lengthAdjust="spacingAndGlyphs" stroke="#1a1a1a" stroke-width="0.18">1.63</text>
<text x="567.18" y="103.10" font-size="5.9" text-anchor="start" fill="#1a1a1a" font-weight="normal" font-style="normal" textLength="10.1" lengthAdjust="spacingAndGlyphs" stroke="#1a1a1a" stroke-width="0.18">7.27</text>
<text x="540.05" y="116.05" font-size="5.9" text-anchor="end" fill="#1a1a1a" font-weight="normal" font-style="normal" textLength="10.1" lengthAdjust="spacingAndGlyphs" stroke="#1a1a1a" stroke-width="0.18">8.62</text>
<text x="577.20" y="116.05" font-size="5.9" text-anchor="start" fill="#1a1a1a" font-weight="normal" font-style="normal" textLength="12.99" lengthAdjust="spacingAndGlyphs" stroke="#1a1a1a" stroke-width="0.18">13.79</text>
<text x="548.83" y="129.00" font-size="5.9" text-anchor="end" fill="#1a1a1a" font-weight="normal" font-style="normal" textLength="10.1" lengthAdjust="spacingAndGlyphs" stroke="#1a1a1a" stroke-width="0.18">2.91</text>
<text x="568.68" y="129.00" font-size="5.9" text-anchor="start" fill="#1a1a1a" font-weight="normal" font-style="normal" textLength="10.1" lengthAdjust="spacingAndGlyphs" stroke="#1a1a1a" stroke-width="0.18">8.25</text>
<text x="556.20" y="141.95" font-size="5.9" text-anchor="start" fill="#1a1a1a" font-weight="normal" font-style="normal" textLength="9.72" lengthAdjust="spacingAndGlyphs" stroke="#1a1a1a" stroke-width="0.18">0.11</text>
<text x="532.24" y="154.90" font-size="5.9" text-anchor="end" fill="#1a1a1a" font-weight="normal" font-style="normal" textLength="12.99" lengthAdjust="spacingAndGlyphs" stroke="#1a1a1a" stroke-width="0.18">13.70</text>
<text x="622.78" y="154.90" font-size="5.9" text-anchor="start" fill="#1a1a1a" font-weight="normal" font-style="normal" textLength="12.99" lengthAdjust="spacingAndGlyphs" stroke="#1a1a1a" stroke-width="0.18">43.63</text>
<text x="556.50" y="167.85" font-size="5.9" text-anchor="start" fill="#1a1a1a" font-weight="normal" font-style="normal" textLength="2.89" lengthAdjust="spacingAndGlyphs" stroke="#1a1a1a" stroke-width="0.18">0</text>
<text x="547.70" y="180.80" font-size="5.9" text-anchor="end" fill="#1a1a1a" font-weight="normal" font-style="normal" textLength="10.1" lengthAdjust="spacingAndGlyphs" stroke="#1a1a1a" stroke-width="0.18">3.64</text>
<text x="561.60" y="180.80" font-size="5.9" text-anchor="start" fill="#1a1a1a" font-weight="normal" font-style="normal" textLength="10.1" lengthAdjust="spacingAndGlyphs" stroke="#1a1a1a" stroke-width="0.18">3.64</text>
<text x="546.35" y="193.75" font-size="5.9" text-anchor="end" fill="#1a1a1a" font-weight="normal" font-style="normal" textLength="10.1" lengthAdjust="spacingAndGlyphs" stroke="#1a1a1a" stroke-width="0.18">4.52</text>
<text x="560.03" y="193.75" font-size="5.9" text-anchor="start" fill="#1a1a1a" font-weight="normal" font-style="normal" textLength="10.1" lengthAdjust="spacingAndGlyphs" stroke="#1a1a1a" stroke-width="0.18">2.62</text>
<polyline points="553.00,48.30 553.00,61.25 553.80,74.20 550.70,87.15 539.30,100.10 554.00,113.05 551.30,126.00 549.30,138.95 531.70,151.90 549.50,164.85 553.40,177.80 553.50,190.75" fill="none" stroke="#f7a6d6" stroke-width="0.9"/>
<polyline points="556.00,48.30 556.00,61.25 558.90,74.20 555.80,87.15 565.90,100.10 554.80,113.05 558.00,126.00 560.80,138.95 738.30,151.90 564.00,164.85 557.30,177.80 564.10,190.75" fill="none" stroke="#c42ad2" stroke-width="1.0"/>
<circle cx="553.00" cy="48.30" r="1.85" fill="#e80000"/>
<circle cx="556.00" cy="48.30" r="1.85" fill="#e80000"/>
<circle cx="553.00" cy="61.25" r="1.85" fill="#e80000"/>
<circle cx="556.00" cy="61.25" r="1.85" fill="#e80000"/>
<circle cx="553.80" cy="74.20" r="1.85" fill="#e80000"/>
<circle cx="558.90" cy="74.20" r="1.6" fill="#3a0a50" stroke="#3a0a50" stroke-width="0.5"/>
<circle cx="550.70" cy="87.15" r="2.0" fill="#f6eaf2" stroke="#d08cb8" stroke-width="0.8"/>
<circle cx="555.80" cy="87.15" r="1.85" fill="#e80000"/>
<circle cx="539.30" cy="100.10" r="2.0" fill="#f6eaf2" stroke="#d08cb8" stroke-width="0.8"/>
<circle cx="565.90" cy="100.10" r="1.6" fill="#3a0a50" stroke="#3a0a50" stroke-width="0.5"/>
<circle cx="554.00" cy="113.05" r="1.85" fill="#e80000"/>
<circle cx="554.80" cy="113.05" r="1.85" fill="#e80000"/>
<circle cx="551.30" cy="126.00" r="2.0" fill="#f6eaf2" stroke="#d08cb8" stroke-width="0.8"/>
<circle cx="558.00" cy="126.00" r="1.6" fill="#3a0a50" stroke="#3a0a50" stroke-width="0.5"/>
<circle cx="549.30" cy="138.95" r="2.0" fill="#f6eaf2" stroke="#d08cb8" stroke-width="0.8"/>
<circle cx="560.80" cy="138.95" r="1.6" fill="#3a0a50" stroke="#3a0a50" stroke-width="0.5"/>
<circle cx="531.70" cy="151.90" r="2.0" fill="#f6eaf2" stroke="#d08cb8" stroke-width="0.8"/>
<circle cx="738.30" cy="151.90" r="1.6" fill="#3a0a50" stroke="#3a0a50" stroke-width="0.5"/>
<circle cx="549.50" cy="164.85" r="2.0" fill="#f6eaf2" stroke="#d08cb8" stroke-width="0.8"/>
<circle cx="564.00" cy="164.85" r="1.6" fill="#3a0a50" stroke="#3a0a50" stroke-width="0.5"/>
<circle cx="553.40" cy="177.80" r="1.85" fill="#e80000"/>
<circle cx="557.30" cy="177.80" r="1.6" fill="#3a0a50" stroke="#3a0a50" stroke-width="0.5"/>
<circle cx="553.50" cy="190.75" r="1.85" fill="#e80000"/>
<circle cx="564.10" cy="190.75" r="1.6" fill="#3a0a50" stroke="#3a0a50" stroke-width="0.5"/>
<line x1="499.5" y1="37.5" x2="499.5" y2="201" stroke="#b8b8b8" stroke-width="1"/>
<line x1="495.5" y1="48.30" x2="499.5" y2="48.30" stroke="#555" stroke-width="0.9"/>
<text x="493.30" y="51.20" font-size="8.8" text-anchor="end" fill="#1c1c1c" font-weight="normal" font-style="italic" textLength="12.51" lengthAdjust="spacingAndGlyphs" stroke="#1c1c1c" stroke-width="0.12">Th2</text>
<line x1="495.5" y1="61.25" x2="499.5" y2="61.25" stroke="#555" stroke-width="0.9"/>
<text x="493.30" y="64.15" font-size="8.8" text-anchor="end" fill="#1c1c1c" font-weight="normal" font-style="italic" textLength="11.82" lengthAdjust="spacingAndGlyphs" stroke="#1c1c1c" stroke-width="0.12">Th1</text>
<line x1="495.5" y1="74.20" x2="499.5" y2="74.20" stroke="#555" stroke-width="0.9"/>
<text x="493.30" y="77.10" font-size="8.8" text-anchor="end" fill="#1c1c1c" font-weight="normal" font-style="italic" textLength="49.64" lengthAdjust="spacingAndGlyphs" stroke="#1c1c1c" stroke-width="0.12">Natural Killer</text>
<line x1="495.5" y1="87.15" x2="499.5" y2="87.15" stroke="#555" stroke-width="0.9"/>
<text x="493.30" y="90.05" font-size="8.8" text-anchor="end" fill="#1c1c1c" font-weight="normal" font-style="italic" textLength="64.81" lengthAdjust="spacingAndGlyphs" stroke="#1c1c1c" stroke-width="0.12">M2 macrophages</text>
<line x1="495.5" y1="100.10" x2="499.5" y2="100.10" stroke="#555" stroke-width="0.9"/>
<text x="493.30" y="103.00" font-size="8.8" text-anchor="end" fill="#1c1c1c" font-weight="normal" font-style="italic" textLength="63.73" lengthAdjust="spacingAndGlyphs" stroke="#1c1c1c" stroke-width="0.12">M1 macrophages</text>
<line x1="495.5" y1="113.05" x2="499.5" y2="113.05" stroke="#555" stroke-width="0.9"/>
<text x="493.30" y="115.95" font-size="8.8" text-anchor="end" fill="#1c1c1c" font-weight="normal" font-style="italic" textLength="16.65" lengthAdjust="spacingAndGlyphs" stroke="#1c1c1c" stroke-width="0.12">CTLs</text>
<line x1="495.5" y1="126.00" x2="499.5" y2="126.00" stroke="#555" stroke-width="0.9"/>
<text x="493.30" y="128.90" font-size="8.8" text-anchor="end" fill="#1c1c1c" font-weight="normal" font-style="italic" textLength="85.6" lengthAdjust="spacingAndGlyphs" stroke="#1c1c1c" stroke-width="0.12">pericyte inflammatory</text>
<line x1="495.5" y1="138.95" x2="499.5" y2="138.95" stroke="#555" stroke-width="0.9"/>
<text x="493.30" y="141.85" font-size="8.8" text-anchor="end" fill="#1c1c1c" font-weight="normal" font-style="italic" textLength="62.94" lengthAdjust="spacingAndGlyphs" stroke="#1c1c1c" stroke-width="0.12">oligodendrocyte</text>
<line x1="495.5" y1="151.90" x2="499.5" y2="151.90" stroke="#555" stroke-width="0.9"/>
<text x="493.30" y="154.80" font-size="8.8" text-anchor="end" fill="#1c1c1c" font-weight="normal" font-style="italic" textLength="27.09" lengthAdjust="spacingAndGlyphs" stroke="#1c1c1c" stroke-width="0.12">neuron</text>
<line x1="495.5" y1="164.85" x2="499.5" y2="164.85" stroke="#555" stroke-width="0.9"/>
<text x="493.30" y="167.75" font-size="8.8" text-anchor="end" fill="#1c1c1c" font-weight="normal" font-style="italic" textLength="34.77" lengthAdjust="spacingAndGlyphs" stroke="#1c1c1c" stroke-width="0.12">microglia</text>
<line x1="495.5" y1="177.80" x2="499.5" y2="177.80" stroke="#555" stroke-width="0.9"/>
<text x="493.30" y="180.70" font-size="8.8" text-anchor="end" fill="#1c1c1c" font-weight="normal" font-style="italic" textLength="61.07" lengthAdjust="spacingAndGlyphs" stroke="#1c1c1c" stroke-width="0.12">endothelial cells</text>
<line x1="495.5" y1="190.75" x2="499.5" y2="190.75" stroke="#555" stroke-width="0.9"/>
<text x="493.30" y="193.65" font-size="8.8" text-anchor="end" fill="#1c1c1c" font-weight="normal" font-style="italic" textLength="36.25" lengthAdjust="spacingAndGlyphs" stroke="#1c1c1c" stroke-width="0.12">astrocyte</text>
<line x1="394.6" y1="44" x2="394.6" y2="201" stroke="#bba9a9" stroke-width="0.9"/>
<line x1="420.9" y1="45.6" x2="420.9" y2="113.2" stroke="#bba9a9" stroke-width="0.9"/>
<line x1="405.3" y1="124.9" x2="405.3" y2="191" stroke="#bba9a9" stroke-width="0.9"/>
<text transform="translate(391.2,119.5) rotate(-90)" font-size="7.2" font-weight="bold" fill="#222" text-anchor="middle">NIS</text>
<text transform="translate(418.0,80.5) rotate(-90)" font-size="7.8" font-style="italic" fill="#333" text-anchor="middle" textLength="28" lengthAdjust="spacingAndGlyphs">immune</text>
<text transform="translate(401.9,164.4) rotate(-90)" font-size="7.6" font-style="italic" fill="#333" text-anchor="middle" textLength="19.4" lengthAdjust="spacingAndGlyphs">neuro</text>
<line x1="508.38" y1="209.5" x2="739.00" y2="209.5" stroke="#585858" stroke-width="1"/>
<line x1="508.38" y1="209.5" x2="508.38" y2="212.5" stroke="#777" stroke-width="0.7"/>
<text x="508.38" y="220.10" font-size="6.5" text-anchor="middle" fill="#222" font-weight="normal" font-style="normal" textLength="10.3" lengthAdjust="spacingAndGlyphs">30%</text>
<line x1="511.45" y1="209.5" x2="511.45" y2="211.3" stroke="#777" stroke-width="0.7"/>
<line x1="514.52" y1="209.5" x2="514.52" y2="211.3" stroke="#777" stroke-width="0.7"/>
<line x1="517.60" y1="209.5" x2="517.60" y2="211.3" stroke="#777" stroke-width="0.7"/>
<line x1="520.67" y1="209.5" x2="520.67" y2="211.3" stroke="#777" stroke-width="0.7"/>
<line x1="523.75" y1="209.5" x2="523.75" y2="212.5" stroke="#777" stroke-width="0.7"/>
<text x="523.75" y="220.10" font-size="6.5" text-anchor="middle" fill="#222" font-weight="normal" font-style="normal" textLength="10.3" lengthAdjust="spacingAndGlyphs">20%</text>
<line x1="526.83" y1="209.5" x2="526.83" y2="211.3" stroke="#777" stroke-width="0.7"/>
<line x1="529.90" y1="209.5" x2="529.90" y2="211.3" stroke="#777" stroke-width="0.7"/>
<line x1="532.98" y1="209.5" x2="532.98" y2="211.3" stroke="#777" stroke-width="0.7"/>
<line x1="536.05" y1="209.5" x2="536.05" y2="211.3" stroke="#777" stroke-width="0.7"/>
<line x1="539.12" y1="209.5" x2="539.12" y2="212.5" stroke="#777" stroke-width="0.7"/>
<text x="539.12" y="220.10" font-size="6.5" text-anchor="middle" fill="#222" font-weight="normal" font-style="normal" textLength="10.3" lengthAdjust="spacingAndGlyphs">10%</text>
<line x1="542.20" y1="209.5" x2="542.20" y2="211.3" stroke="#777" stroke-width="0.7"/>
<line x1="545.27" y1="209.5" x2="545.27" y2="211.3" stroke="#777" stroke-width="0.7"/>
<line x1="548.35" y1="209.5" x2="548.35" y2="211.3" stroke="#777" stroke-width="0.7"/>
<line x1="551.42" y1="209.5" x2="551.42" y2="211.3" stroke="#777" stroke-width="0.7"/>
<line x1="554.50" y1="209.5" x2="554.50" y2="212.5" stroke="#777" stroke-width="0.7"/>
<text x="554.50" y="220.10" font-size="6.5" text-anchor="middle" fill="#222" font-weight="normal" font-style="normal" textLength="7.0" lengthAdjust="spacingAndGlyphs">0%</text>
<line x1="557.58" y1="209.5" x2="557.58" y2="211.3" stroke="#777" stroke-width="0.7"/>
<line x1="560.65" y1="209.5" x2="560.65" y2="211.3" stroke="#777" stroke-width="0.7"/>
<line x1="563.73" y1="209.5" x2="563.73" y2="211.3" stroke="#777" stroke-width="0.7"/>
<line x1="566.80" y1="209.5" x2="566.80" y2="211.3" stroke="#777" stroke-width="0.7"/>
<line x1="569.88" y1="209.5" x2="569.88" y2="212.5" stroke="#777" stroke-width="0.7"/>
<text x="569.88" y="220.10" font-size="6.5" text-anchor="middle" fill="#222" font-weight="normal" font-style="normal" textLength="10.3" lengthAdjust="spacingAndGlyphs">10%</text>
<line x1="572.95" y1="209.5" x2="572.95" y2="211.3" stroke="#777" stroke-width="0.7"/>
<line x1="576.02" y1="209.5" x2="576.02" y2="211.3" stroke="#777" stroke-width="0.7"/>
<line x1="579.10" y1="209.5" x2="579.10" y2="211.3" stroke="#777" stroke-width="0.7"/>
<line x1="582.17" y1="209.5" x2="582.17" y2="211.3" stroke="#777" stroke-width="0.7"/>
<line x1="585.25" y1="209.5" x2="585.25" y2="212.5" stroke="#777" stroke-width="0.7"/>
<text x="585.25" y="220.10" font-size="6.5" text-anchor="middle" fill="#222" font-weight="normal" font-style="normal" textLength="10.3" lengthAdjust="spacingAndGlyphs">20%</text>
<line x1="588.33" y1="209.5" x2="588.33" y2="211.3" stroke="#777" stroke-width="0.7"/>
<line x1="591.40" y1="209.5" x2="591.40" y2="211.3" stroke="#777" stroke-width="0.7"/>
<line x1="594.48" y1="209.5" x2="594.48" y2="211.3" stroke="#777" stroke-width="0.7"/>
<line x1="597.55" y1="209.5" x2="597.55" y2="211.3" stroke="#777" stroke-width="0.7"/>
<line x1="600.62" y1="209.5" x2="600.62" y2="212.5" stroke="#777" stroke-width="0.7"/>
<text x="600.62" y="220.10" font-size="6.5" text-anchor="middle" fill="#222" font-weight="normal" font-style="normal" textLength="10.3" lengthAdjust="spacingAndGlyphs">30%</text>
<line x1="603.70" y1="209.5" x2="603.70" y2="211.3" stroke="#777" stroke-width="0.7"/>
<line x1="606.77" y1="209.5" x2="606.77" y2="211.3" stroke="#777" stroke-width="0.7"/>
<line x1="609.85" y1="209.5" x2="609.85" y2="211.3" stroke="#777" stroke-width="0.7"/>
<line x1="612.92" y1="209.5" x2="612.92" y2="211.3" stroke="#777" stroke-width="0.7"/>
<line x1="616.00" y1="209.5" x2="616.00" y2="212.5" stroke="#777" stroke-width="0.7"/>
<text x="616.00" y="220.10" font-size="6.5" text-anchor="middle" fill="#222" font-weight="normal" font-style="normal" textLength="10.3" lengthAdjust="spacingAndGlyphs">40%</text>
<line x1="619.08" y1="209.5" x2="619.08" y2="211.3" stroke="#777" stroke-width="0.7"/>
<line x1="622.15" y1="209.5" x2="622.15" y2="211.3" stroke="#777" stroke-width="0.7"/>
<line x1="625.23" y1="209.5" x2="625.23" y2="211.3" stroke="#777" stroke-width="0.7"/>
<line x1="628.30" y1="209.5" x2="628.30" y2="211.3" stroke="#777" stroke-width="0.7"/>
<line x1="631.38" y1="209.5" x2="631.38" y2="212.5" stroke="#777" stroke-width="0.7"/>
<text x="631.38" y="220.10" font-size="6.5" text-anchor="middle" fill="#222" font-weight="normal" font-style="normal" textLength="10.3" lengthAdjust="spacingAndGlyphs">50%</text>
<line x1="634.45" y1="209.5" x2="634.45" y2="211.3" stroke="#777" stroke-width="0.7"/>
<line x1="637.52" y1="209.5" x2="637.52" y2="211.3" stroke="#777" stroke-width="0.7"/>
<line x1="640.60" y1="209.5" x2="640.60" y2="211.3" stroke="#777" stroke-width="0.7"/>
<line x1="643.67" y1="209.5" x2="643.67" y2="211.3" stroke="#777" stroke-width="0.7"/>
<line x1="646.75" y1="209.5" x2="646.75" y2="212.5" stroke="#777" stroke-width="0.7"/>
<text x="646.75" y="220.10" font-size="6.5" text-anchor="middle" fill="#222" font-weight="normal" font-style="normal" textLength="10.3" lengthAdjust="spacingAndGlyphs">60%</text>
<line x1="649.83" y1="209.5" x2="649.83" y2="211.3" stroke="#777" stroke-width="0.7"/>
<line x1="652.90" y1="209.5" x2="652.90" y2="211.3" stroke="#777" stroke-width="0.7"/>
<line x1="655.98" y1="209.5" x2="655.98" y2="211.3" stroke="#777" stroke-width="0.7"/>
<line x1="659.05" y1="209.5" x2="659.05" y2="211.3" stroke="#777" stroke-width="0.7"/>
<line x1="662.12" y1="209.5" x2="662.12" y2="212.5" stroke="#777" stroke-width="0.7"/>
<text x="662.12" y="220.10" font-size="6.5" text-anchor="middle" fill="#222" font-weight="normal" font-style="normal" textLength="10.3" lengthAdjust="spacingAndGlyphs">70%</text>
<line x1="665.20" y1="209.5" x2="665.20" y2="211.3" stroke="#777" stroke-width="0.7"/>
<line x1="668.27" y1="209.5" x2="668.27" y2="211.3" stroke="#777" stroke-width="0.7"/>
<line x1="671.35" y1="209.5" x2="671.35" y2="211.3" stroke="#777" stroke-width="0.7"/>
<line x1="674.42" y1="209.5" x2="674.42" y2="211.3" stroke="#777" stroke-width="0.7"/>
<line x1="677.50" y1="209.5" x2="677.50" y2="212.5" stroke="#777" stroke-width="0.7"/>
<text x="677.50" y="220.10" font-size="6.5" text-anchor="middle" fill="#222" font-weight="normal" font-style="normal" textLength="10.3" lengthAdjust="spacingAndGlyphs">80%</text>
<line x1="680.58" y1="209.5" x2="680.58" y2="211.3" stroke="#777" stroke-width="0.7"/>
<line x1="683.65" y1="209.5" x2="683.65" y2="211.3" stroke="#777" stroke-width="0.7"/>
<line x1="686.73" y1="209.5" x2="686.73" y2="211.3" stroke="#777" stroke-width="0.7"/>
<line x1="689.80" y1="209.5" x2="689.80" y2="211.3" stroke="#777" stroke-width="0.7"/>
<line x1="692.88" y1="209.5" x2="692.88" y2="212.5" stroke="#777" stroke-width="0.7"/>
<text x="692.88" y="220.10" font-size="6.5" text-anchor="middle" fill="#222" font-weight="normal" font-style="normal" textLength="10.3" lengthAdjust="spacingAndGlyphs">90%</text>
<line x1="695.95" y1="209.5" x2="695.95" y2="211.3" stroke="#777" stroke-width="0.7"/>
<line x1="699.02" y1="209.5" x2="699.02" y2="211.3" stroke="#777" stroke-width="0.7"/>
<line x1="702.10" y1="209.5" x2="702.10" y2="211.3" stroke="#777" stroke-width="0.7"/>
<line x1="705.17" y1="209.5" x2="705.17" y2="211.3" stroke="#777" stroke-width="0.7"/>
<line x1="708.25" y1="209.5" x2="708.25" y2="212.5" stroke="#777" stroke-width="0.7"/>
<text x="708.25" y="220.10" font-size="6.5" text-anchor="middle" fill="#222" font-weight="normal" font-style="normal" textLength="12.5" lengthAdjust="spacingAndGlyphs">100%</text>
<line x1="711.33" y1="209.5" x2="711.33" y2="211.3" stroke="#777" stroke-width="0.7"/>
<line x1="714.40" y1="209.5" x2="714.40" y2="211.3" stroke="#777" stroke-width="0.7"/>
<line x1="717.48" y1="209.5" x2="717.48" y2="211.3" stroke="#777" stroke-width="0.7"/>
<line x1="720.55" y1="209.5" x2="720.55" y2="211.3" stroke="#777" stroke-width="0.7"/>
<line x1="723.62" y1="209.5" x2="723.62" y2="212.5" stroke="#777" stroke-width="0.7"/>
<text x="723.62" y="220.10" font-size="6.5" text-anchor="middle" fill="#222" font-weight="normal" font-style="normal" textLength="12.5" lengthAdjust="spacingAndGlyphs">110%</text>
<line x1="726.70" y1="209.5" x2="726.70" y2="211.3" stroke="#777" stroke-width="0.7"/>
<line x1="729.77" y1="209.5" x2="729.77" y2="211.3" stroke="#777" stroke-width="0.7"/>
<line x1="732.85" y1="209.5" x2="732.85" y2="211.3" stroke="#777" stroke-width="0.7"/>
<line x1="735.92" y1="209.5" x2="735.92" y2="211.3" stroke="#777" stroke-width="0.7"/>
<line x1="739.00" y1="209.5" x2="739.00" y2="212.5" stroke="#777" stroke-width="0.7"/>
<text x="739.00" y="220.10" font-size="6.5" text-anchor="middle" fill="#222" font-weight="normal" font-style="normal" textLength="12.5" lengthAdjust="spacingAndGlyphs">120%</text>
<text x="558.90" y="205.60" font-size="7.0" text-anchor="start" fill="#f03030" font-weight="normal" font-style="normal" textLength="10.8" lengthAdjust="spacingAndGlyphs">1.30</text>
<text x="618.00" y="232.60" font-size="8.4" text-anchor="middle" fill="#222" font-weight="bold" font-style="normal" textLength="66" lengthAdjust="spacingAndGlyphs">% of intersection</text>
<circle cx="668" cy="202.7" r="2.4" fill="#e00000"/>
<text x="672.50" y="204.90" font-size="6.8" text-anchor="start" fill="#222" font-weight="normal" font-style="normal" textLength="43" lengthAdjust="spacingAndGlyphs">not significant</text>
<text x="505.3" y="17.6" font-size="10.4" fill="#333" textLength="211.3" lengthAdjust="spacingAndGlyphs">GS<tspan fill="#e60000" font-weight="bold">N</tspan>C to CHI3L1 and CHI3L2 in AD <tspan fill="#f43ee0" font-weight="normal">females</tspan> brain</text>
<text x="399.40" y="8.90" font-size="10.8" text-anchor="start" fill="#333" font-weight="normal" font-style="normal" textLength="9.8" lengthAdjust="spacingAndGlyphs">b)</text>
<rect x="445.6" y="241.70000000000002" width="295.40000000000003" height="25.700000000000017" rx="2" fill="#e4e4e4"/>
<rect x="444.8" y="240.9" width="295.40000000000003" height="25.700000000000017" rx="2" fill="#fff" stroke="#a8a8a8" stroke-width="0.8"/>
<rect x="448.2" y="243.80" width="8.0" height="7.5" fill="#f99bc9"/>
<text x="462.2" y="250.60" font-size="8.6" fill="#333" textLength="114" lengthAdjust="spacingAndGlyphs">% genes in CHI3L2-AD-<tspan fill="#c41fdc" font-weight="bold">female</tspan></text>
<rect x="448.2" y="255.80" width="8.0" height="7.5" fill="#fb5c90"/>
<text x="462.2" y="262.60" font-size="8.6" fill="#333" textLength="112.8" lengthAdjust="spacingAndGlyphs">% genes in CHI3L1-AD-<tspan fill="#c41fdc" font-weight="bold">female</tspan></text>
<line x1="579.3" y1="247.60" x2="589.5" y2="247.60" stroke="#c42ad2" stroke-width="0.9"/>
<circle cx="584.40" cy="247.60" r="1.7" fill="#3a0a50" stroke="#3a0a50" stroke-width="0.7"/>
<text x="595.0" y="250.60" font-size="8.6" fill="#333" textLength="144" lengthAdjust="spacingAndGlyphs">neglog10(pValue) CHI3L2-AD-<tspan fill="#c41fdc" font-weight="bold">female</tspan></text>
<line x1="579.3" y1="259.60" x2="589.5" y2="259.60" stroke="#f7a6d6" stroke-width="0.9"/>
<circle cx="584.40" cy="259.60" r="1.7" fill="#f6eaf2" stroke="#d08cb8" stroke-width="0.7"/>
<text x="595.0" y="262.60" font-size="8.6" fill="#333" textLength="143.2" lengthAdjust="spacingAndGlyphs">neglog10(pValue) CHI3L1-AD-<tspan fill="#c41fdc" font-weight="bold">female</tspan></text>
</svg>
</body></html>
